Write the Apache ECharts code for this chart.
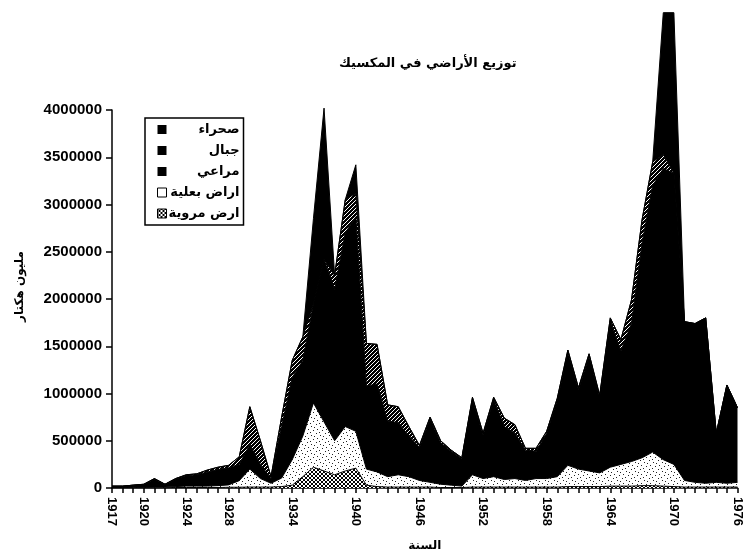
<!DOCTYPE html>
<html><head><meta charset="utf-8">
<script src="https://cdn.jsdelivr.net/npm/echarts@6/dist/echarts.min.js"></script>
<style>html,body{margin:0;padding:0;background:#fff}#c{width:744px;height:557px}</style>
</head><body><div id="c"></div>
<script>
const years = [];
for (let y = 1917; y <= 1976; y++) years.push(String(y));
const shownYears = ['1917','1920','1924','1928','1934','1940','1946','1952','1958','1964','1970','1976'];
const yTicks = [0,500000,1000000,1500000,2000000,2500000,3000000,3500000,4000000];

// thousand hectares
const irrigated = [3,3,3,3,3,3,5,5,5,5,5,8,8,10,10,10,15,30,120,220,180,140,180,210,30,15,10,10,10,10,10,5,5,5,10,10,10,10,10,10,10,10,10,15,15,15,15,20,20,20,25,25,20,15,10,10,10,10,10,10];
const rainfed = [3,3,5,5,7,7,10,15,15,15,20,25,70,190,90,40,90,270,430,680,520,360,470,390,170,155,110,130,110,70,50,35,25,15,130,90,110,80,90,70,90,90,110,225,185,165,145,200,230,260,295,355,280,235,70,50,40,50,40,50];
const pasture = [14,14,22,30,85,28,80,110,120,150,170,182,172,260,150,50,545,870,800,1050,1720,1600,2050,2270,880,930,590,550,430,350,670,440,360,290,800,460,820,560,480,320,290,480,810,1200,840,1220,800,1550,1200,1460,2270,2820,3080,3080,1680,1680,1750,520,1040,790];
const mountains = [0,0,0,2,5,2,5,10,10,20,25,25,80,400,250,20,100,180,250,0,0,150,350,250,450,420,170,170,100,20,20,20,10,10,20,20,20,90,90,20,30,20,20,20,20,20,20,30,120,250,250,250,150,0,0,0,0,0,0,0];
const desert = [0,0,0,0,0,0,0,0,0,0,0,0,0,0,0,0,0,0,0,900,1600,0,0,300,0,0,0,0,0,0,0,0,0,0,0,0,0,0,0,0,0,0,0,0,0,0,0,0,0,0,0,0,1500,1700,0,0,0,0,0,0];

const names = {desert:'صحراء', mount:'جبال', pasture:'مراعي', rain:'اراض بعلية', irr:'ارض مروية'};

function pat(size, draw){
  const c = document.createElement('canvas'); c.width = size; c.height = size;
  const g = c.getContext('2d'); draw(g, size); return c;
}
const hatch = pat(4, (g,s)=>{
  g.fillStyle='#000'; g.fillRect(0,0,s,s);
  g.fillStyle='#fff';
  for (let i = 0; i < s; i++) g.fillRect(s-1-i, i, 1, 1);
});
const cross = pat(4, (g,s)=>{
  g.fillStyle='#fff'; g.fillRect(0,0,s,s);
  g.strokeStyle='#000'; g.lineWidth=1;
  g.beginPath(); g.moveTo(0,0); g.lineTo(s,s); g.moveTo(s,0); g.lineTo(0,s); g.stroke();
});
const dots = pat(9, (g,s)=>{
  g.fillStyle='#fff'; g.fillRect(0,0,s,s);
  g.fillStyle='#222';
  [[1,1],[5,3],[2,6],[7,7],[4,0],[8,4]].forEach(p=>g.fillRect(p[0],p[1],1,1));
});

function series(name, data, fill, legendColor){
  return {
    name, type:'line', stack:'all', data: data.map(v=>v*1000),
    showSymbol:false, symbol:'none', clip:false,
    lineStyle:{color:'#000', width:1},
    itemStyle:{color: legendColor},
    areaStyle:{color: fill, opacity:1},
    emphasis:{disabled:true}
  };
}

const chart = echarts.init(document.getElementById('c'), null, {renderer:'canvas'});
chart.setOption({
  animation:false,
  backgroundColor:'#fff',
  title:{text:'توزيع الأراضي في المكسيك', left:334, top:52,
    textStyle:{fontFamily:'DejaVu Sans', fontSize:13, fontWeight:'bold', color:'#000'}},
  grid:{left:112, right:4, top:110, bottom:69},
  legend:{
    orient:'vertical', left:145, top:118, icon:'rect', itemWidth:9, itemHeight:9, itemGap:8,
    padding:[5,4,5,12], borderColor:'#000', borderWidth:1.5,
    data:[
      {name:names.desert},{name:names.mount},{name:names.pasture},
      {name:names.rain, itemStyle:{color:'#fff', borderColor:'#000', borderWidth:1}},
      {name:names.irr, itemStyle:{color:{image:cross, repeat:'repeat'}, borderColor:'#000', borderWidth:1}}
    ],
    formatter: n => '{a|' + n + '}',
    textStyle:{rich:{a:{width:68, align:'right', fontFamily:'DejaVu Sans', fontSize:13, fontWeight:'bold', color:'#000'}}}
  },
  xAxis:{
    type:'category', data:years, boundaryGap:false,
    name:'السنة', nameLocation:'middle', nameGap:52,
    nameTextStyle:{fontFamily:'DejaVu Sans', fontSize:12, fontWeight:'bold', color:'#000'},
    axisLine:{lineStyle:{color:'#000', width:1.5}},
    axisTick:{interval:0, length:5, lineStyle:{color:'#000', width:1.5}},
    axisLabel:{rotate:-90, margin:9, color:'#000', fontFamily:'Liberation Sans', fontSize:13, fontWeight:'bold',
      interval:(i, v) => shownYears.indexOf(v) >= 0}
  },
  yAxis:{
    type:'value', min:yTicks[0], max:yTicks[yTicks.length-1], interval:500000,
    name:'مليون هكتار', nameLocation:'middle', nameGap:86, nameRotate:90,
    nameTextStyle:{fontFamily:'DejaVu Sans', fontSize:12, fontWeight:'bold', color:'#000', padding:[0,0,0,25]},
    axisLine:{show:true, lineStyle:{color:'#000', width:1.5}},
    axisTick:{show:true, length:6, lineStyle:{color:'#000', width:1.5}},
    splitLine:{show:false},
    axisLabel:{margin:10, color:'#000', fontFamily:'Liberation Sans', fontSize:15, fontWeight:'bold',
      formatter: v => String(v)}
  },
  series:[
    series(names.irr, irrigated, {image:cross, repeat:'repeat'}, '#555'),
    series(names.rain, rainfed, {image:dots, repeat:'repeat'}, '#fff'),
    series(names.pasture, pasture, '#000', '#000'),
    series(names.mount, mountains, {image:hatch, repeat:'repeat'}, '#000'),
    series(names.desert, desert, '#000', '#000')
  ]
});
</script></body></html>
